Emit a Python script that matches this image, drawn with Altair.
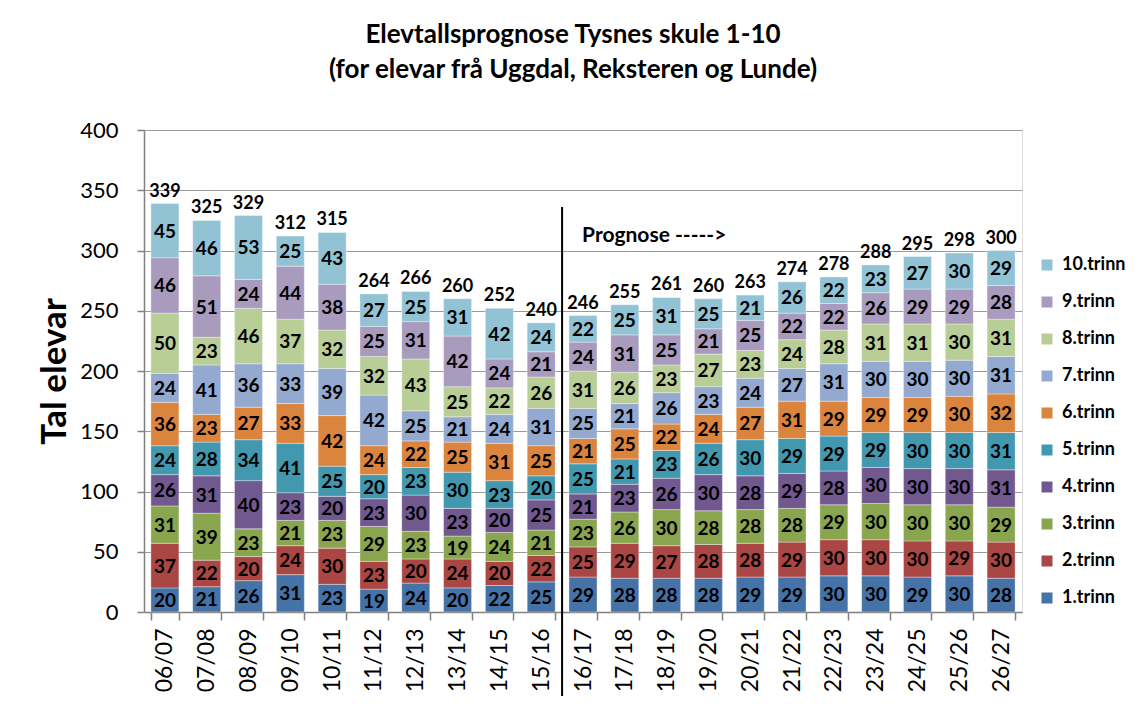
import altair as alt
import pandas as pd

years = ["06/07", "07/08", "08/09", "09/10", "10/11", "11/12", "12/13", "13/14",
         "14/15", "15/16", "16/17", "17/18", "18/19", "19/20", "20/21", "21/22",
         "22/23", "23/24", "24/25", "25/26", "26/27"]
grades = ["1.trinn", "2.trinn", "3.trinn", "4.trinn", "5.trinn",
          "6.trinn", "7.trinn", "8.trinn", "9.trinn", "10.trinn"]

t1 = [20, 21, 26, 31, 23, 19, 24, 20, 22, 25, 29, 28, 28, 28, 29, 29, 30, 30, 29, 30, 28]
t2 = [37, 22, 20, 24, 30, 23, 20, 24, 20, 22, 25, 29, 27, 28, 28, 29, 30, 30, 30, 29, 30]
t3 = [31, 39, 23, 21, 23, 29, 23, 19, 24, 21, 23, 26, 30, 28, 28, 28, 29, 30, 30, 30, 29]
t4 = [26, 31, 40, 23, 20, 23, 30, 23, 20, 25, 21, 23, 26, 30, 28, 29, 28, 30, 30, 30, 31]
t5 = [24, 28, 34, 41, 25, 20, 23, 30, 23, 20, 25, 21, 23, 26, 30, 29, 29, 29, 30, 30, 31]
t6 = [36, 23, 27, 33, 42, 24, 22, 25, 31, 25, 21, 25, 22, 24, 27, 31, 29, 29, 29, 30, 32]
t7 = [24, 41, 36, 33, 39, 42, 25, 21, 24, 31, 25, 21, 26, 23, 24, 27, 31, 30, 30, 30, 31]
t8 = [50, 23, 46, 37, 32, 32, 43, 25, 22, 26, 31, 26, 23, 27, 23, 24, 28, 31, 31, 30, 31]
t9 = [46, 51, 24, 44, 38, 25, 31, 42, 24, 21, 24, 31, 25, 21, 25, 22, 22, 26, 29, 29, 28]
t10 = [45, 46, 53, 25, 43, 27, 25, 31, 42, 24, 22, 25, 31, 25, 21, 26, 22, 23, 27, 30, 29]

colors = ["#4572A7", "#AA4643", "#89A54E", "#71588F", "#4198AF",
          "#DB843D", "#93A9CF", "#B9CD96", "#A99BBD", "#92C3D5"]

series = [t1, t2, t3, t4, t5, t6, t7, t8, t9, t10]
rows = []
for gi, (g, vals) in enumerate(zip(grades, series)):
    for y, v in zip(years, vals):
        rows.append({"year": y, "grade": g, "idx": gi + 1, "value": v})
df = pd.DataFrame(rows)

marker = pd.DataFrame({"year": ["16/17"], "top": [336], "label": ["Prognose ----->"], "ty": [307]})

FONT = "Lato"
W, H = 878, 482
PAD_IN = 0.33
PAD_OUT = PAD_IN / 2
STEP = W / len(years)
EDGE_SHIFT = -PAD_OUT * STEP  # from start of a bar back to the step boundary
xscale = alt.Scale(domain=years, paddingInner=PAD_IN, paddingOuter=PAD_OUT)
yscale = alt.Scale(domain=[0, 400], nice=False)

base = alt.Chart(df).transform_stack(
    stack="value", groupby=["year"],
    sort=[alt.SortField("idx", order="ascending")],
    as_=["v0", "v1"],
).transform_calculate(mid="(datum.v0 + datum.v1) / 2")

bars = base.mark_bar(stroke="#ffffff", strokeWidth=0.6, strokeOpacity=0.6).encode(
    x=alt.X("year:N", scale=xscale, sort=years,
            axis=alt.Axis(title=None, labelAngle=270, labelFont=FONT, labelFontSize=23,
                          labelColor="black", labelPadding=8, tickSize=8, tickBand="extent",
                          tickColor="#808080", tickWidth=1.5, domainColor="#808080",
                          domainWidth=1.5, grid=False)),
    y=alt.Y("v0:Q", scale=yscale,
            axis=alt.Axis(values=list(range(0, 401, 50)), title="Tal elevar",
                          titleFont=FONT, titleFontSize=35, titleFontWeight="bold",
                          titleColor="black", titleAngle=270, titleX=-79, titleY=241,
                          titleAlign="center", titleBaseline="alphabetic",
                          labelFont=FONT, labelFontSize=22, labelColor="black",
                          labelPadding=19, tickSize=7, tickColor="#808080", tickWidth=1.5,
                          domainColor="#808080", domainWidth=1.5,
                          gridColor="#9a9a9a", gridWidth=1.2, grid=True)),
    y2="v1:Q",
    color=alt.Color("grade:N",
                    scale=alt.Scale(domain=grades[::-1], range=colors[::-1]),
                    legend=alt.Legend(title=None, orient="none", legendX=894, legendY=126,
                                      symbolType="square", symbolSize=121,
                                      symbolStrokeWidth=0, labelFont=FONT,
                                      labelFontSize=18, labelFontWeight="bold",
                                      labelColor="black", rowPadding=19, labelOffset=6,
                                      labelLimit=200)),
)

seglabels = base.mark_text(font=FONT, fontSize=19, fontWeight="bold", color="black",
                           baseline="middle", dy=1).encode(
    x=alt.X("year:N", scale=xscale, sort=years),
    y=alt.Y("mid:Q", scale=yscale),
    text=alt.Text("value:Q"),
)

totals = alt.Chart(df).mark_text(font=FONT, fontSize=18, fontWeight="bold", color="black",
                                 baseline="alphabetic", dy=-7).encode(
    x=alt.X("year:N", scale=xscale, sort=years),
    y=alt.Y("sum(value):Q", scale=yscale),
    text=alt.Text("sum(value):Q"),
)

divider = alt.Chart(marker).mark_rule(color="black", strokeWidth=2, xOffset=EDGE_SHIFT).encode(
    x=alt.X("year:N", scale=xscale, sort=years, bandPosition=0),
    y=alt.Y("top:Q", scale=yscale),
    y2=alt.value(566),
)

prog = alt.Chart(marker).mark_text(font=FONT, fontSize=21, fontWeight="bold", color="black",
                                   align="left", baseline="alphabetic",
                                   dx=20 + EDGE_SHIFT).encode(
    x=alt.X("year:N", scale=xscale, sort=years, bandPosition=0),
    y=alt.Y("ty:Q", scale=yscale),
    text="label:N",
)

chart = alt.layer(bars, seglabels, totals, divider, prog).properties(
    width=W, height=H,
    autosize=alt.AutoSizeParams(type="none"),
    padding={"left": 136, "top": 122, "right": 111, "bottom": 84},
    title=alt.TitleParams(
        text=["Elevtallsprognose Tysnes skule 1-10", "(for elevar frå Uggdal, Reksteren og Lunde)"],
        font=FONT, fontSize=26, fontWeight="bold", color="black", anchor="middle",
        frame="group", offset=36, dx=-10, lineHeight=35),
).configure_view(strokeWidth=0).configure(background="white")

chart.save("out.html", embed_options={"renderer": "svg", "actions": False})
